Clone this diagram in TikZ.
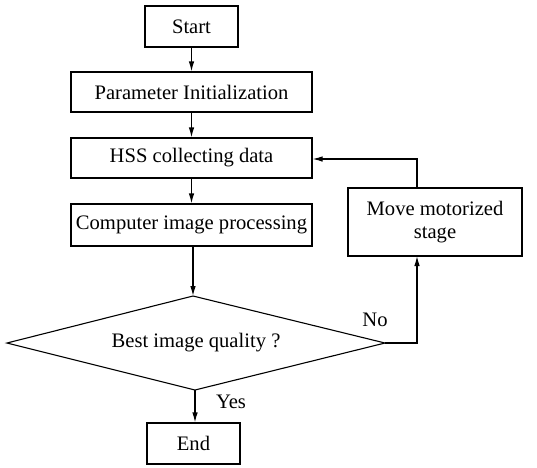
\documentclass[tikz,border=0pt]{standalone}
\usepackage{fontspec}
\setmainfont{Liberation Serif}
\usetikzlibrary{arrows.meta,shapes.geometric}
\begin{document}
\begin{tikzpicture}[x=1pt,y=-1pt,
  box/.style={draw,line width=1.1pt,rectangle,inner sep=0pt,font=\fontsize{20.6}{23}\selectfont},
  lbl/.style={font=\fontsize{20.6}{23}\selectfont},
  conn/.style={line width=1.1pt,-{Latex[length=10pt,width=5.5pt]}},
  plain/.style={line width=1.1pt}]
\useasboundingbox (0,0) rectangle (537,467);
\node[box,minimum width=93pt,minimum height=41pt] (start) at (191.5,26.5) {Start};
\node[box,minimum width=241pt,minimum height=40pt] (param) at (191.5,92) {Parameter Initialization};
\node[box,minimum width=241pt,minimum height=40pt] (hss) at (191.5,158) {HSS collecting data};
\node[box,minimum width=241pt,minimum height=42pt] (comp) at (191.5,225) {Computer image processing};
\node[box,minimum width=174pt,minimum height=68pt,align=center] (move) at (435,222) {Move motorized\\stage};
\draw[plain,fill=white] (193,296) -- (385,343) -- (195,390) -- (7,343) -- cycle;
\coordinate (dtop) at (193,296);
\coordinate (dright) at (385,343);
\coordinate (dbot) at (195,390);
\node[lbl] (q) at (196,343) {Best image quality ?};
\node[box,minimum width=93pt,minimum height=41pt] (end) at (193.5,443.5) {End};
\node[lbl] (no) at (375,320) {No};
\node[lbl] (yes) at (231,402) {Yes};
\coordinate (mb) at (417,256);
\coordinate (mt) at (417,188);
\coordinate (c1) at (417,343);
\coordinate (c2) at (417,159);
\draw[conn] (start) -- (param);
\draw[conn] (param) -- (hss);
\draw[conn] (hss) -- (comp);
\draw[conn] (comp.south -| dtop) -- (dtop);
\draw[conn] (dbot) -- (end.north -| dbot);
\draw[conn] (dright) -- (c1) -- (mb);
\draw[conn] (mt) -- (c2) -- (c2 -| hss.east);
\end{tikzpicture}
\end{document}
